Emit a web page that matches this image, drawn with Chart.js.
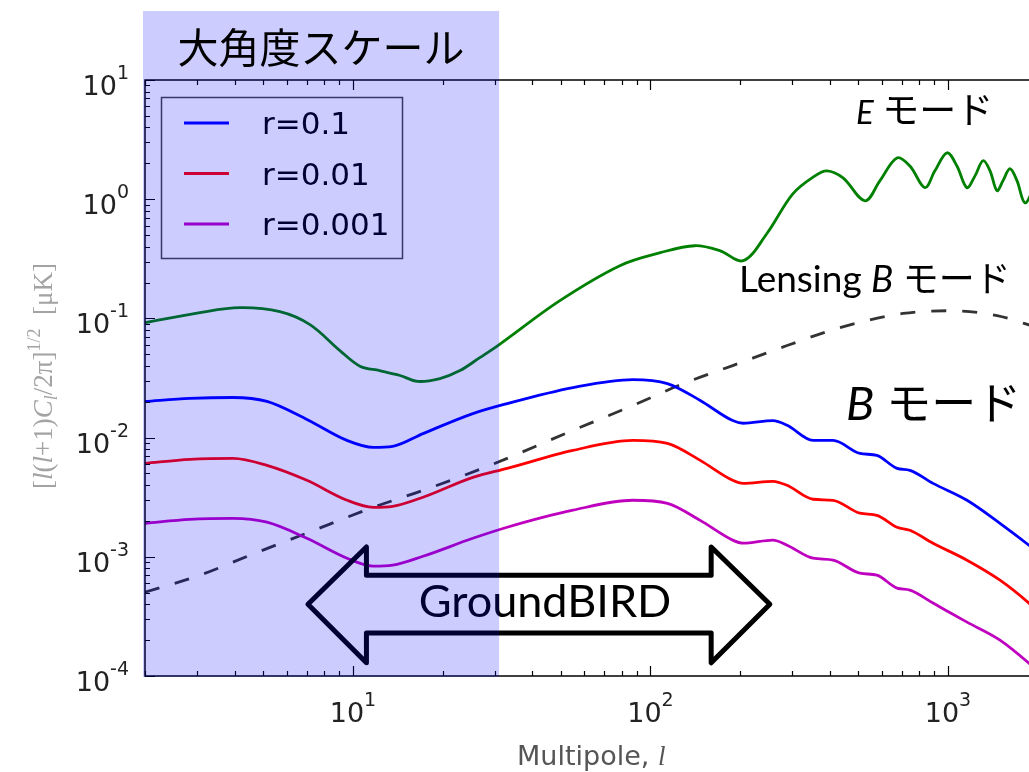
<!DOCTYPE html>
<html>
<head>
<meta charset="utf-8">
<script src="https://cdn.jsdelivr.net/npm/chart.js@4.4.1/dist/chart.umd.min.js"></script>
<style>
html, body { margin: 0; padding: 0; background: #fff; overflow: hidden; width: 1029px; height: 772px; }
#wrap { position: absolute; left: 0; top: 0; width: 1060px; height: 772px; }
</style>
</head>
<body>
<div id="wrap"><canvas id="chart"></canvas></div>
<script>
// multipoles shared by the three primordial B-mode curves
const B_L = [2, 2.83, 3.95, 5.14, 7.0, 9.55, 11.7, 13.6, 17.2, 25.3, 33.0, 54.9, 87.3, 114, 147, 189, 205, 258, 288, 352, 411, 506, 577, 674, 745, 891, 1159, 1496, 1872, 2000];
const R_01 = [0.0201, 0.0213, 0.0217, 0.0201, 0.0142, 0.00947, 0.00828, 0.00844, 0.0108, 0.0159, 0.0193, 0.0263, 0.0307, 0.0284, 0.0205, 0.0139, 0.0132, 0.0139, 0.0127, 0.00947, 0.00947, 0.00737, 0.00709, 0.00552, 0.00531, 0.00413, 0.00298, 0.00191, 0.00125, 0.00109];
const R_001 = [0.00608, 0.00657, 0.00670, 0.00585, 0.00438, 0.00298, 0.00260, 0.00265, 0.00316, 0.00464, 0.00552, 0.00781, 0.00947, 0.00894, 0.00644, 0.00438, 0.00413, 0.00430, 0.00398, 0.00304, 0.00298, 0.00232, 0.00223, 0.00177, 0.00167, 0.00130, 0.000937, 0.000637, 0.000409, 0.000350];
const R_0001 = [0.00191, 0.00206, 0.00210, 0.00195, 0.00143, 0.000973, 0.000834, 0.000850, 0.00101, 0.00143, 0.00177, 0.00246, 0.00298, 0.00281, 0.00202, 0.00138, 0.00130, 0.00138, 0.00125, 0.000973, 0.000937, 0.000729, 0.000701, 0.000546, 0.000525, 0.000409, 0.000283, 0.000200, 0.000128, 0.000110];

// E mode
const E_L = [2, 3.06, 4.17, 5.68, 7.17, 9.04, 10.6, 12.3, 14.4, 16.5, 19.6, 22.9, 26.7, 30.7, 49.6, 78.9, 108, 141, 171, 205, 246, 301, 357, 392, 444, 526, 591, 674, 745, 837, 904, 993, 1072, 1158, 1233, 1312, 1385, 1462, 1531, 1616, 1706, 1815, 1960];
const E_VAL = [0.0922, 0.112, 0.123, 0.114, 0.0887, 0.0537, 0.0395, 0.0365, 0.0332, 0.0296, 0.0313, 0.0365, 0.0469, 0.0592, 0.141, 0.277, 0.356, 0.407, 0.370, 0.305, 0.513, 1.11, 1.57, 1.73, 1.51, 0.970, 1.43, 2.22, 1.90, 1.25, 1.73, 2.45, 1.90, 1.25, 1.57, 2.10, 1.73, 1.18, 1.43, 1.80, 1.43, 0.933, 1.29];

// lensing B mode (dashed)
const LENS_L = [2, 3.06, 4.50, 7.00, 11.7, 17.2, 28.9, 54.9, 87.3, 129, 189, 288, 434, 706, 1016, 1462, 2000];
const LENS_VAL = [0.000505, 0.000701, 0.00103, 0.00158, 0.00260, 0.00361, 0.00585, 0.0115, 0.0186, 0.0284, 0.0402, 0.0592, 0.0837, 0.110, 0.116, 0.1055, 0.0837];

const X_TICKS = [10, 100, 1000];
const Y_TICKS = [1e-4, 1e-3, 1e-2, 1e-1, 1, 10];
const LARGE_SCALE_L = [2, 31];          // shaded "大角度スケール" range
const ARROW_L = [7.06, 11.1, 160, 252]; // GroundBIRD arrow: tip, head, head, tip
const ARROW_V = [1.21e-3, 7.0e-4, 4.0e-4, 2.3e-4, 1.29e-4];

function pts(ls, vs) {
    return ls.map((l, i) => ({ x: l, y: vs[i] }));
}

function logTicks(min, max) {
    const out = [];
    for (let e = Math.floor(Math.log10(min)); e <= Math.ceil(Math.log10(max)); e++) {
        for (let k = 1; k < 10; k++) {
            const v = k * Math.pow(10, e);
            if (v >= min * 0.999 && v <= max * 1.001) out.push({ v: v, major: k === 1 });
        }
    }
    return out;
}

function powLabel(ctx, v, x, baseline, align) {
    const base = '10';
    const exp = String(Math.round(Math.log10(v)));
    ctx.font = '27px "DejaVu Sans"';
    const wb = ctx.measureText(base).width;
    ctx.font = '19px "DejaVu Sans"';
    const we = ctx.measureText(exp).width;
    const w = wb + we;
    const x0 = align === 'right' ? x - w : x - w / 2;
    ctx.fillStyle = '#222';
    ctx.textAlign = 'left';
    ctx.textBaseline = 'alphabetic';
    ctx.font = '27px "DejaVu Sans"';
    ctx.fillText(base, x0, baseline);
    ctx.font = '19px "DejaVu Sans"';
    ctx.fillText(exp, x0 + wb, baseline - 16);
}

function mixed(ctx, parts, x, baseline, color) {
    ctx.fillStyle = color || '#000';
    ctx.textAlign = 'left';
    ctx.textBaseline = 'alphabetic';
    let cx = x;
    parts.forEach(p => {
        ctx.font = p.font;
        ctx.fillText(p.t, cx, baseline + (p.dy || 0));
        cx += ctx.measureText(p.t).width;
    });
    return cx - x;
}

function mixedWidth(ctx, parts) {
    let w = 0;
    parts.forEach(p => { ctx.font = p.font; w += ctx.measureText(p.t).width; });
    return w;
}

const decor = {
    id: 'decor',
    afterDatasetsDraw(chart) {
        const ctx = chart.ctx;
        const a = chart.chartArea;
        const xs = chart.scales.x, ys = chart.scales.y;
        ctx.save();

        // frame
        ctx.strokeStyle = '#000';
        ctx.lineWidth = 1.5;
        ctx.beginPath();
        ctx.moveTo(a.right, a.top); ctx.lineTo(a.left, a.top);
        ctx.lineTo(a.left, a.bottom); ctx.lineTo(a.right, a.bottom);
        ctx.stroke();

        // inward ticks
        ctx.lineWidth = 1.2;
        ctx.beginPath();
        logTicks(xs.min, xs.max).forEach(t => {
            const px = Math.round(xs.getPixelForValue(t.v)) + 0.5;
            const len = t.major ? 10 : 5;
            ctx.moveTo(px, a.bottom); ctx.lineTo(px, a.bottom - len);
            ctx.moveTo(px, a.top); ctx.lineTo(px, a.top + len);
        });
        logTicks(ys.min, ys.max).forEach(t => {
            const py = Math.round(ys.getPixelForValue(t.v)) + 0.5;
            const len = t.major ? 10 : 5;
            ctx.moveTo(a.left, py); ctx.lineTo(a.left + len, py);
        });
        ctx.stroke();

        // tick labels
        X_TICKS.forEach(v => powLabel(ctx, v, xs.getPixelForValue(v), 722, 'center'));
        Y_TICKS.forEach(v => powLabel(ctx, v, a.left - 16, ys.getPixelForValue(v) + 15, 'right'));

        // axis titles
        const xt = [
            { t: 'Multipole, ', font: '27px "DejaVu Sans"' },
            { t: 'l', font: 'italic 27px "Liberation Serif"' }
        ];
        mixed(ctx, xt, (a.left + a.right) / 2 - mixedWidth(ctx, xt) / 2, 765, '#555');

        const yt = [
            { t: '[', font: '27px "Liberation Serif"' },
            { t: 'l', font: 'italic 27px "Liberation Serif"' },
            { t: '(', font: '27px "Liberation Serif"' },
            { t: 'l', font: 'italic 27px "Liberation Serif"' },
            { t: '+1)', font: '27px "Liberation Serif"' },
            { t: 'C', font: 'italic 27px "Liberation Serif"' },
            { t: 'l', font: 'italic 18px "Liberation Serif"', dy: 5 },
            { t: '/2π]', font: '27px "Liberation Serif"' },
            { t: '1/2', font: '18px "Liberation Serif"', dy: -12 },
            { t: '  [μK]', font: '27px "Liberation Serif"' }
        ];
        ctx.save();
        ctx.translate(52, 376);
        ctx.rotate(-Math.PI / 2);
        mixed(ctx, yt, -mixedWidth(ctx, yt) / 2, 0, '#a3a3a3');
        ctx.restore();

        // legend
        const lx = a.left + 16, ly = a.top + 17;
        ctx.fillStyle = '#fff';
        ctx.fillRect(lx, ly, 241, 161);
        ctx.strokeStyle = '#444';
        ctx.lineWidth = 1.5;
        ctx.strokeRect(lx + 0.5, ly + 0.5, 241, 161);
        chart.data.datasets.slice(0, 3).forEach((ds, i) => {
            const ry = a.top + 43 + i * 50.5;
            ctx.strokeStyle = ds.borderColor;
            ctx.lineWidth = 2.8;
            ctx.beginPath();
            ctx.moveTo(a.left + 39, ry); ctx.lineTo(a.left + 84, ry);
            ctx.stroke();
            ctx.fillStyle = '#000';
            ctx.font = '31px "DejaVu Sans"';
            ctx.textAlign = 'left';
            ctx.textBaseline = 'alphabetic';
            ctx.fillText(ds.label, a.left + 117, ry + 11);
        });

        // GroundBIRD double arrow
        const ax = ARROW_L.map(l => xs.getPixelForValue(l));
        const ay = ARROW_V.map(v => ys.getPixelForValue(v));
        ctx.strokeStyle = '#000';
        ctx.lineWidth = 5;
        ctx.lineJoin = 'round';
        ctx.beginPath();
        ctx.moveTo(ax[0], ay[2]);
        ctx.lineTo(ax[1], ay[0]);
        ctx.lineTo(ax[1], ay[1]);
        ctx.lineTo(ax[2], ay[1]);
        ctx.lineTo(ax[2], ay[0]);
        ctx.lineTo(ax[3], ay[2]);
        ctx.lineTo(ax[2], ay[4]);
        ctx.lineTo(ax[2], ay[3]);
        ctx.lineTo(ax[1], ay[3]);
        ctx.lineTo(ax[1], ay[4]);
        ctx.closePath();
        ctx.stroke();
        const gb = [{ t: 'GroundBIRD', font: '45px Lato, "Noto Sans"' }];
        mixed(ctx, gb, 545 - mixedWidth(ctx, gb) / 2, 617);

        // mode labels
        const jp = '"Noto Sans CJK JP"';
        mixed(ctx, [
            { t: 'E', font: 'italic 33px Lato' },
            { t: ' ', font: '33px Lato' },
            { t: 'モード', font: '37px ' + jp }
        ], 856, 124);
        mixed(ctx, [
            { t: 'Lensing ', font: '37px Lato' },
            { t: 'B', font: 'italic 37px Lato' },
            { t: ' ', font: '37px Lato' },
            { t: 'モード', font: '36px ' + jp }
        ], 739, 292);
        mixed(ctx, [
            { t: 'B', font: 'italic 47px Lato' },
            { t: ' ', font: '47px Lato' },
            { t: 'モード', font: '45px ' + jp }
        ], 846, 420);

        // translucent blue band over the large-angle range
        const sx0 = xs.getPixelForValue(LARGE_SCALE_L[0]) - 2;
        const sx1 = xs.getPixelForValue(LARGE_SCALE_L[1]);
        ctx.fillStyle = 'rgba(0, 0, 255, 0.2)';
        ctx.fillRect(sx0, 11, sx1 - sx0, a.bottom - 11 + 1);

        ctx.fillStyle = '#000';
        ctx.font = '41px ' + jp;
        ctx.textAlign = 'center';
        ctx.textBaseline = 'middle';
        ctx.fillText('大角度スケール', (sx0 + sx1) / 2, 47);

        ctx.restore();
    }
};

new Chart(document.getElementById('chart'), {
    type: 'line',
    data: {
        datasets: [
            { label: 'r=0.1', data: pts(B_L, R_01), borderColor: '#0000ff' },
            { label: 'r=0.01', data: pts(B_L, R_001), borderColor: '#ff0000' },
            { label: 'r=0.001', data: pts(B_L, R_0001), borderColor: '#bf00bf' },
            { label: 'E', data: pts(E_L, E_VAL), borderColor: '#008000', cubicInterpolationMode: 'default', tension: 0.35 },
            { label: 'Lensing B', data: pts(LENS_L, LENS_VAL), borderColor: '#333', borderDash: [15, 16] }
        ]
    },
    options: {
        responsive: true,
        maintainAspectRatio: false,
        animation: false,
        devicePixelRatio: 1,
        layout: { padding: { left: 0, top: 80, right: 22.5, bottom: 0 } },
        elements: {
            point: { radius: 0 },
            line: { borderWidth: 2.8, cubicInterpolationMode: 'monotone', fill: false }
        },
        plugins: { legend: { display: false }, tooltip: { enabled: false } },
        scales: {
            x: {
                type: 'logarithmic', min: 2, max: 2000,
                grid: { display: false }, border: { display: false }, ticks: { display: false },
                afterFit(s) { s.height = 96; }
            },
            y: {
                type: 'logarithmic', min: 1e-4, max: 10,
                grid: { display: false }, border: { display: false }, ticks: { display: false },
                afterFit(s) { s.width = 145; }
            }
        }
    },
    plugins: [decor]
});
</script>
</body>
</html>
